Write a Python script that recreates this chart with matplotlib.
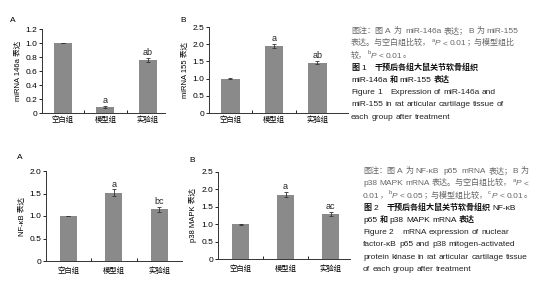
import re

import matplotlib
matplotlib.use("Agg")
import matplotlib.pyplot as plt

plt.rcParams["font.family"] = ["Noto Sans CJK SC", "DejaVu Sans"]

# ---- data ----
groups = ["空白组", "模型组", "实验组"]

mir146a = [1.0, 0.086, 0.757]
mir146a_err = [0.005, 0.02, 0.03]
mir146a_marks = ["", "a", "ab"]

mir155 = [1.0, 1.95, 1.46]
mir155_err = [0.01, 0.06, 0.05]
mir155_marks = ["", "a", "ab"]

nfkb = [1.0, 1.52, 1.145]
nfkb_err = [0.005, 0.07, 0.05]
nfkb_marks = ["", "a", "bc"]

p38 = [1.0, 1.85, 1.30]
p38_err = [0.01, 0.07, 0.05]
p38_marks = ["", "a", "ac"]

# captions: {a} = superscript letter, {P} = italic P; third field = title line
cap1 = [
    ("图注：图 A 为  miR-146a 表达；B 为 miR-155", "#666666", False),
    ("表达。与空白组比较，{a}{P} < 0.01；与模型组比", "#666666", False),
    ("较，{b}{P} < 0.01。", "#666666", False),
    ("图 1    干预后各组大鼠关节软骨组织", "#111111", True),
    ("miR-146a 和 miR-155 表达", "#111111", True),
    ("Figure 1    Expression of miR-146a and", "#222222", False),
    ("miR-155 in rat articular cartilage tissue of", "#222222", False),
    ("each group after treatment", "#222222", False),
]
cap2 = [
    ("图注：图 A 为 NF-κB  p65  mRNA 表达；B 为", "#666666", False),
    ("p38 MAPK mRNA 表达。与空白组比较，{a}{P} <", "#666666", False),
    ("0.01，{b}{P} < 0.05；与模型组比较，{c}{P} < 0.01。", "#666666", False),
    ("图 2    干预后各组大鼠关节软骨组织 NF-κB", "#111111", True),
    ("p65 和 p38 MAPK mRNA 表达", "#111111", True),
    ("Figure 2    mRNA expression of nuclear", "#222222", False),
    ("factor-κB p65 and p38 mitogen-activated", "#222222", False),
    ("protein kinase in rat articular cartilage tissue", "#222222", False),
    ("of each group after treatment", "#222222", False),
]

W, H = 537, 300
fig = plt.figure(figsize=(W / 100, H / 100), dpi=100)
BAR = "#8a8a8a"
LAT = ["Liberation Sans", "DejaVu Sans"]
CJK = ["Noto Sans CJK SC", "DejaVu Sans"]


def px_axes(left, top, right, bottom):
    return fig.add_axes([left / W, 1 - bottom / H, (right - left) / W, (bottom - top) / H])


def bar_panel(rect, vals, errs, marks, ymax, step, ylabel, xlim, width, pad):
    ax = px_axes(*rect)
    x = range(len(vals))
    ax.bar(x, vals, width=width, color=BAR, edgecolor="none")
    ax.errorbar(x, vals, yerr=errs, fmt="none", ecolor="#333333", elinewidth=0.6,
                capsize=1.5, capthick=0.6)
    for i, (v, e, m) in enumerate(zip(vals, errs, marks)):
        if m:
            ax.text(i, v + e + ymax * 0.01, m, ha="center", va="bottom",
                    fontsize=6.5, family=LAT, color="#222222")
    ax.set_xlim(*xlim)
    ax.set_ylim(0, ymax)
    n = int(round(ymax / step))
    ticks = [k * step for k in range(n + 1)]
    ax.set_yticks(ticks)
    ax.set_yticklabels(["0"] + ["{:.1f}".format(t) for t in ticks[1:]],
                       family=LAT, fontsize=6)
    ax.set_xticks(list(x))
    ax.set_xticklabels(groups, fontsize=5.3)
    ax.set_xticks([0.5, 1.5], minor=True)
    ax.tick_params(axis="x", which="major", length=0, pad=pad)
    ax.tick_params(axis="x", which="minor", length=2, width=0.6, direction="in")
    ax.tick_params(axis="y", length=2, width=0.6, pad=1.5)
    for s in ("top", "right"):
        ax.spines[s].set_visible(False)
    for s in ("left", "bottom"):
        ax.spines[s].set_linewidth(0.7)
        ax.spines[s].set_color("#333333")
    ax.set_ylabel(ylabel, fontsize=5.5, labelpad=3,
                  family=["Liberation Sans", "Noto Sans CJK SC"])
    return ax


bar_panel((42, 29, 165, 113), mir146a, mir146a_err, mir146a_marks, 1.2, 0.2,
          "miRNA 146a 表达", (-0.49, 2.4), 0.42, 2)
bar_panel((209, 27, 348, 113), mir155, mir155_err, mir155_marks, 2.5, 0.5,
          "miRNA 155 表达", (-0.49, 2.7), 0.42, 2)
bar_panel((46, 171, 182, 261), nfkb, nfkb_err, nfkb_marks, 2.0, 0.5,
          "NF-κB 表达", (-0.49, 2.5), 0.37, 4)
bar_panel((218, 172, 350, 259), p38, p38_err, p38_marks, 2.5, 0.5,
          "p38 MAPK 表达", (-0.5, 2.43), 0.38, 4)

# panel letters
for (px, py, t) in [(13, 20, "A"), (183, 20, "B"), (20, 158, "A"), (192, 160, "B")]:
    fig.text(px / W, 1 - py / H, t, fontsize=6, family=LAT, ha="center", va="center")

# ---- captions, drawn run by run so Latin and CJK get their own sizes ----
renderer = fig.canvas.get_renderer()
LAT_SIZE, CJK_SIZE, SUP_SIZE = 6.0, 5.8, 4.2
SPACE_PX = 0.24 * LAT_SIZE * 100 / 72


def is_cjk(ch):
    o = ord(ch)
    return o >= 0x2E80 or 0xFF00 <= o <= 0xFFEF


def split_runs(s):
    runs = []
    for tok in re.split(r"(\{[a-zP]\}| +)", s):
        if not tok:
            continue
        if tok.startswith("{"):
            runs.append(("ital" if tok == "{P}" else "sup", tok[1]))
        elif tok.startswith(" "):
            runs.append(("space", tok))
        else:
            cur, kind = "", None
            for ch in tok:
                k = "cjk" if is_cjk(ch) else "lat"
                if kind is not None and k != kind:
                    runs.append((kind, cur))
                    cur = ""
                kind = k
                cur += ch
            runs.append((kind, cur))
    return runs


def rich_line(x_px, base_px, s, color, title):
    x = x_px
    for kind, txt in split_runs(s):
        if kind == "space":
            x += len(txt) * SPACE_PX
            continue
        kw = dict(color=color, ha="left", va="baseline")
        y = base_px
        if kind == "cjk":
            kw.update(fontsize=CJK_SIZE, family=CJK, weight="bold" if title else "normal")
        elif kind == "lat":
            kw.update(fontsize=LAT_SIZE, family=LAT)
        elif kind == "ital":
            kw.update(fontsize=LAT_SIZE, family=LAT, style="italic")
        else:
            kw.update(fontsize=SUP_SIZE, family=LAT)
            y = base_px - 3
        t = fig.text(x / W, 1 - y / H, txt, **kw)
        x += t.get_window_extent(renderer).width + 0.3


for x0, y0, lines in [(351, 33, cap1), (363, 173, cap2)]:
    for k, (s, c, title) in enumerate(lines):
        rich_line(x0, y0 + k * 12.25, s, c, title)

fig.savefig("out.png", dpi=100)
